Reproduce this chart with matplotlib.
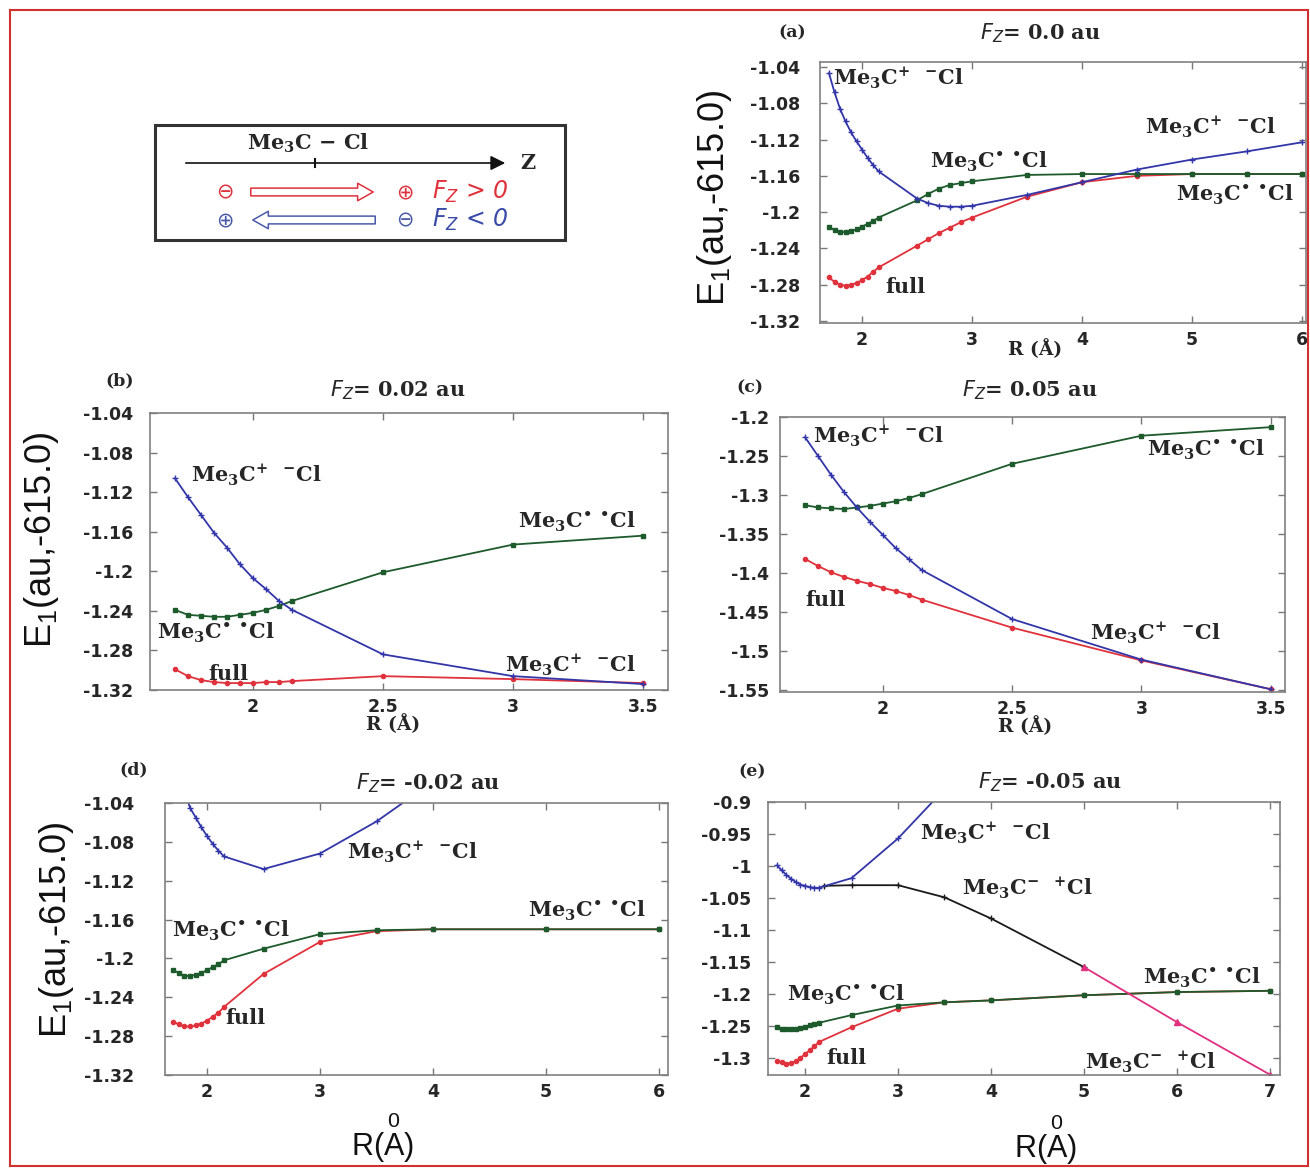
import numpy as np
import matplotlib
matplotlib.use('Agg')
import matplotlib.pyplot as plt
from matplotlib.patches import Rectangle, FancyArrowPatch
from matplotlib.ticker import FuncFormatter

plt.rcParams['mathtext.fontset'] = 'custom'
plt.rcParams['mathtext.rm'] = 'DejaVu Serif:bold'
plt.rcParams['mathtext.bf'] = 'DejaVu Serif:bold'
plt.rcParams['mathtext.it'] = 'DejaVu Sans:italic'
plt.rcParams['mathtext.sf'] = 'Liberation Sans'
plt.rcParams['axes.unicode_minus'] = False

# ---------------- data ----------------
R_dense = [1.70, 1.75, 1.80, 1.85, 1.90, 1.95, 2.00, 2.05, 2.10, 2.15]

# (a) Fz = 0.0 au
R_a = R_dense + [2.5, 2.6, 2.7, 2.8, 2.9, 3.0, 3.5, 4.0, 4.5, 5.0, 5.5, 6.0]
ion_a = [-1.047, -1.068, -1.086, -1.100, -1.112, -1.122, -1.131, -1.140, -1.148, -1.155,
         -1.185, -1.190, -1.193, -1.194, -1.194, -1.193, -1.181, -1.167, -1.153, -1.142, -1.133, -1.123]
rad_a = [-1.216, -1.220, -1.222, -1.222, -1.221, -1.219, -1.216, -1.213, -1.210, -1.206,
         -1.187, -1.180, -1.174, -1.170, -1.168, -1.166, -1.159, -1.158, -1.158, -1.158, -1.158, -1.158]
full_a = [-1.272, -1.277, -1.280, -1.281, -1.280, -1.278, -1.275, -1.271, -1.266, -1.261,
          -1.237, -1.230, -1.223, -1.217, -1.211, -1.206, -1.183, -1.167, -1.160, -1.158, -1.158, -1.158]

# (b) Fz = 0.02 au
R_b = R_dense + [2.5, 3.0, 3.5]
ion_b = [-1.106, -1.125, -1.143, -1.161, -1.176, -1.193, -1.207, -1.218, -1.230, -1.239, -1.284, -1.306, -1.314]
rad_b = [-1.239, -1.244, -1.245, -1.246, -1.246, -1.244, -1.242, -1.239, -1.235, -1.230, -1.201, -1.173, -1.164]
full_b = [-1.299, -1.306, -1.310, -1.312, -1.313, -1.313, -1.313, -1.312, -1.312, -1.311, -1.306, -1.309, -1.313]

# (c) Fz = 0.05 au
R_c = R_dense + [2.5, 3.0, 3.5]
ion_c = [-1.226, -1.250, -1.274, -1.296, -1.316, -1.334, -1.351, -1.368, -1.382, -1.396, -1.459, -1.511, -1.549]
rad_c = [-1.313, -1.316, -1.317, -1.318, -1.316, -1.314, -1.311, -1.308, -1.304, -1.299, -1.260, -1.224, -1.213]
full_c = [-1.382, -1.391, -1.399, -1.405, -1.410, -1.414, -1.419, -1.423, -1.428, -1.434, -1.470, -1.512, -1.549]

# (d) Fz = -0.02 au
R_d = R_dense + [2.5, 3.0, 3.5, 4.0, 5.0, 6.0]
R_d_ion = R_dense + [2.5, 3.0, 3.5, 4.0]
ion_d = [-0.995, -1.012, -1.028, -1.045, -1.055, -1.065, -1.074, -1.082, -1.089, -1.095, -1.108, -1.092, -1.059, -1.018]
rad_d = [-1.212, -1.215, -1.218, -1.218, -1.217, -1.215, -1.212, -1.209, -1.206, -1.202, -1.190, -1.175, -1.171, -1.170, -1.170, -1.170]
full_d = [-1.265, -1.268, -1.270, -1.270, -1.269, -1.267, -1.264, -1.260, -1.256, -1.250, -1.216, -1.183, -1.172, -1.170, -1.170, -1.170]

# (e) Fz = -0.05 au
R_e = R_dense + [2.5, 3.0, 3.5, 4.0, 5.0, 6.0, 7.0]
R_e_ion = R_dense + [2.5, 3.0, 3.5]
ion_e = [-0.999, -1.007, -1.014, -1.020, -1.025, -1.029, -1.031, -1.033, -1.034, -1.034, -1.019, -0.957, -0.880]
R_e_anion = [2.2, 2.5, 3.0, 3.5, 4.0, 5.0]
anion_e = [-1.031, -1.030, -1.030, -1.049, -1.082, -1.158]
R_e_anion2 = [5.0, 6.0, 7.0]
anion2_e = [-1.158, -1.244, -1.326]
rad_e = [-1.252, -1.254, -1.255, -1.255, -1.254, -1.253, -1.251, -1.249, -1.247, -1.245, -1.233, -1.218, -1.213, -1.210, -1.202, -1.197, -1.195]
full_e = [-1.304, -1.307, -1.309, -1.308, -1.305, -1.300, -1.294, -1.288, -1.282, -1.275, -1.252, -1.223, -1.213, -1.210, -1.202, -1.197, -1.195]

ION = r'Me$_3$C$^{+}$  $^{-}$Cl'
RAD = r'Me$_3$C$^{•}$ $^{•}$Cl'
ION2 = r'Me$_3$C$^{-}$  $^{+}$Cl'

# ---------------- styles ----------------
C_ION = '#3236a8'
C_RAD = '#1d5a2c'
C_FULL = '#e0323c'
C_AN = '#1a1a1a'
C_AN2 = '#e0307f'

W, H = 1310, 1169
fig = plt.figure(figsize=(W / 100, H / 100), dpi=100)


def box(l, t, r, b):
    return [l / W, 1 - b / H, (r - l) / W, (b - t) / H]


def ftxt(px, py, s, **kw):
    fig.text(px / W, 1 - py / H, s, **kw)


fmt = FuncFormatter(lambda v, p: '{:g}'.format(round(v, 4)))


def style(ax, xlim, ylim, xt, yt, ypad=8):
    ax.set_xlim(*xlim)
    ax.set_ylim(*ylim)
    ax.set_xticks(xt)
    ax.set_yticks(yt)
    ax.xaxis.set_major_formatter(fmt)
    ax.yaxis.set_major_formatter(fmt)
    ax.tick_params(direction='in', top=True, right=True, length=5, width=1,
                   color='#777777', labelsize=12.5, labelcolor='#262626')
    ax.tick_params(axis='x', pad=6)
    ax.tick_params(axis='y', pad=ypad)
    for lab in ax.get_xticklabels() + ax.get_yticklabels():
        lab.set_fontfamily('DejaVu Sans')
        lab.set_fontweight('bold')
    for s in ax.spines.values():
        s.set_color('#808080')
        s.set_linewidth(1.2)


def line(ax, x, y, c, m, ms=3.5, lw=1.3, z=2):
    ax.plot(x, y, color=c, marker=m, ms=ms, lw=lw, mew=1.0, zorder=z)


ann = dict(family='DejaVu Serif', fontweight='bold', fontsize=15, color='#262626',
           va='center', ha='left')

# ---------------- panel (a) ----------------
axa = fig.add_axes(box(820, 62, 1306, 323))
line(axa, R_a, full_a, C_FULL, 'o', ms=3)
line(axa, R_a, rad_a, C_RAD, 's', ms=3.2)
line(axa, R_a, ion_a, C_ION, '+', ms=4)
style(axa, (1.618, 6.036), (-1.3222, -1.0345), [2, 3, 4, 5, 6],
      np.arange(-1.32, -1.039, 0.04), ypad=14)
axa.text(1.74, -1.052, ION, **ann)
axa.text(4.57, -1.106, ION, **ann)
axa.text(2.62, -1.145, RAD, **ann)
axa.text(4.85, -1.181, RAD, **ann)
axa.text(2.21, -1.283, 'full', **ann)

# ---------------- panel (b) ----------------
axb = fig.add_axes(box(150, 413, 668, 690))
line(axb, R_b, full_b, C_FULL, 'o', ms=3)
line(axb, R_b, rad_b, C_RAD, 's', ms=3.2)
line(axb, R_b, ion_b, C_ION, '+', ms=4)
style(axb, (1.604, 3.596), (-1.32, -1.04), [2, 2.5, 3, 3.5],
      np.arange(-1.32, -1.039, 0.04), ypad=12)
axb.text(1.76, -1.103, ION, **ann)
axb.text(3.02, -1.150, RAD, **ann)
axb.text(1.63, -1.262, RAD, **ann)
axb.text(1.83, -1.304, 'full', **ann)
axb.text(2.97, -1.295, ION, **ann)

# ---------------- panel (c) ----------------
axc = fig.add_axes(box(780, 417, 1285, 692))
line(axc, R_c, full_c, C_FULL, 'o', ms=3)
line(axc, R_c, rad_c, C_RAD, 's', ms=3.2)
line(axc, R_c, ion_c, C_ION, '+', ms=4)
style(axc, (1.603, 3.555), (-1.5525, -1.2), [2, 2.5, 3, 3.5],
      np.arange(-1.55, -1.199, 0.05), ypad=8)
axc.text(1.73, -1.224, ION, **ann)
axc.text(3.02, -1.242, RAD, **ann)
axc.text(1.70, -1.435, 'full', **ann)
axc.text(2.80, -1.477, ION, **ann)

# ---------------- panel (d) ----------------
axd = fig.add_axes(box(165, 803, 668, 1075))
line(axd, R_d, full_d, C_FULL, 'o', ms=3)
line(axd, R_d, rad_d, C_RAD, 's', ms=3.2)
line(axd, R_d_ion, ion_d, C_ION, '+', ms=4)
style(axd, (1.628, 6.08), (-1.32, -1.04), [2, 3, 4, 5, 6],
      np.arange(-1.32, -1.039, 0.04), ypad=22)
axd.text(3.24, -1.090, ION, **ann)
axd.text(4.84, -1.151, RAD, **ann)
axd.text(1.69, -1.172, RAD, **ann)
axd.text(2.16, -1.261, 'full', **ann)

# ---------------- panel (e) ----------------
axe = fig.add_axes(box(768, 802, 1280, 1075))
line(axe, R_e, full_e, C_FULL, 'o', ms=3)
line(axe, R_e, rad_e, C_RAD, 's', ms=3.2)
line(axe, R_e_anion, anion_e, C_AN, '+', ms=4)
line(axe, R_e_anion2, anion2_e, C_AN2, '^', ms=4)
line(axe, R_e_ion, ion_e, C_ION, '+', ms=4)
style(axe, (1.602, 7.108), (-1.3266, -0.9), [2, 3, 4, 5, 6, 7],
      np.arange(-1.30, -0.899, 0.05), ypad=12)
axe.text(3.24, -0.948, ION, **ann)
axe.text(3.69, -1.034, ION2, **ann)
axe.text(5.63, -1.175, RAD, **ann)
axe.text(1.81, -1.202, RAD, **ann)
axe.text(2.23, -1.300, 'full', **ann)
axe.text(5.01, -1.306, ION2, **ann)

# ---------------- titles / labels ----------------
tkw = dict(family='DejaVu Serif', fontweight='bold', fontsize=15, ha='center',
           va='center', color='#262626')
pkw = dict(family='DejaVu Serif', fontweight='bold', fontsize=12.5, ha='center',
           va='center', color='#262626')
ftxt(792, 33, '(a)', **pkw)
ftxt(1040, 33, r'$F_Z$= 0.0 au', **tkw)
ftxt(120, 381, '(b)', **pkw)
ftxt(398, 390, r'$F_Z$= 0.02 au', **tkw)
ftxt(750, 388, '(c)', **pkw)
ftxt(1030, 390, r'$F_Z$= 0.05 au', **tkw)
ftxt(134, 770, '(d)', **pkw)
ftxt(428, 783, r'$F_Z$= -0.02 au', **tkw)
ftxt(752, 772, '(e)', **pkw)
ftxt(1050, 782, r'$F_Z$= -0.05 au', **tkw)

xkw = dict(family='DejaVu Serif', fontweight='bold', fontsize=13.5, ha='center',
           va='center', color='#262626')
ftxt(1035, 349, 'R (Å)', **xkw)
ftxt(393, 724, 'R (Å)', **xkw)
ftxt(1025, 726, 'R (Å)', **xkw)

ykw = dict(family='Liberation Sans', fontsize=26, rotation=90, ha='center',
           va='center', color='#111111')
ylab = r'E$_\mathsf{1}$(au,-615.0)'
ftxt(714, 198, ylab, **ykw)
ftxt(42, 540, ylab, **ykw)
ftxt(57, 930, ylab, **ykw)

bkw = dict(family='Liberation Sans', fontsize=22, ha='center', va='center',
           color='#111111')
rlab = r'R($\overset{\mathsf{0}}{\mathsf{A}}$)'
ftxt(382, 1138, rlab, **bkw)
ftxt(1045, 1140, rlab, **bkw)

# ---------------- schematic legend box ----------------
fig.add_artist(Rectangle((155 / W, 1 - 240 / H), 410 / W, 115 / H,
                         transform=fig.transFigure, fill=False,
                         ec='#333333', lw=2.2))
ftxt(308, 143, r'Me$_3$C $-$ Cl', family='DejaVu Serif', fontweight='bold',
     fontsize=15, ha='center', va='center', color='#262626')
fig.add_artist(FancyArrowPatch((183 / W, 1 - 163 / H), (508 / W, 1 - 163 / H),
                               transform=fig.transFigure, arrowstyle='-|>',
                               mutation_scale=22, color='#111111', lw=1.2))
fig.add_artist(plt.Line2D([315 / W, 315 / W], [1 - 159 / H, 1 - 167 / H],
                          transform=fig.transFigure, color='#111111', lw=1.5))
ftxt(528, 163, 'Z', family='DejaVu Serif', fontweight='bold', fontsize=15,
     ha='center', va='center', color='#262626')

fig.add_artist(FancyArrowPatch((248 / W, 1 - 192 / H), (376 / W, 1 - 192 / H),
                               transform=fig.transFigure,
                               arrowstyle='simple,head_width=0.9,head_length=0.8,tail_width=0.4',
                               mutation_scale=14, fc='white', ec=C_FULL, lw=1.1))
fig.add_artist(FancyArrowPatch((378 / W, 1 - 220 / H), (250 / W, 1 - 220 / H),
                               transform=fig.transFigure,
                               arrowstyle='simple,head_width=0.9,head_length=0.8,tail_width=0.4',
                               mutation_scale=14, fc='white', ec='#4a5aa8', lw=1.1))
skw = dict(family='DejaVu Sans', fontsize=15, ha='center', va='center')
ftxt(225, 192, '⊖', color=C_FULL, **skw)
ftxt(405, 192, '⊕', color=C_FULL, **skw)
ftxt(225, 220, '⊕', color='#4a5aa8', **skw)
ftxt(405, 220, '⊖', color='#4a5aa8', **skw)
ftxt(432, 192, r'$F_Z$ > 0', family='DejaVu Sans', style='italic', fontsize=17,
     ha='left', va='center', color=C_FULL)
ftxt(432, 220, r'$F_Z$ < 0', family='DejaVu Sans', style='italic', fontsize=17,
     ha='left', va='center', color='#3a4aa8')

# red outer border
fig.add_artist(Rectangle((10 / W, 1 - 1166 / H), 1298 / W, 1156 / H,
                         transform=fig.transFigure, fill=False, ec='#d03030', lw=1.5))

fig.savefig('out.png', dpi=100)
